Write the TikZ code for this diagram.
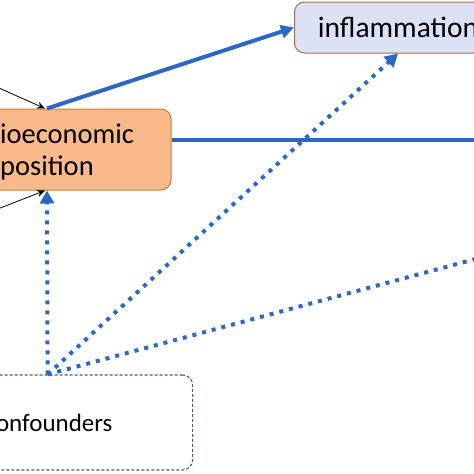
\documentclass[tikz,border=0pt]{standalone}
\usepackage{fontspec}
\setmainfont{Carlito}
\usetikzlibrary{arrows.meta}
\definecolor{arrowblue}{RGB}{42,104,196}
\definecolor{sepfill}{RGB}{249,185,138}
\definecolor{sepdraw}{RGB}{196,128,58}
\definecolor{inffill}{RGB}{219,226,243}
\definecolor{infdraw}{RGB}{168,102,78}
\definecolor{confdraw}{RGB}{70,90,120}
\begin{document}
\begin{tikzpicture}[x=1pt,y=-1pt,
 box/.style={rounded corners=10pt, line width=1pt, inner sep=0pt},
 solidarrow/.style={draw=arrowblue, line width=4pt, -{Triangle[length=13pt,width=13pt]}},
 dotline/.style={draw=arrowblue, line width=4pt, dash pattern=on 4pt off 6pt},
 dotarrow/.style={dotline, -{Triangle[length=13pt,width=14pt]}},
 thinarrow/.style={draw=black, line width=0.8pt, -{Stealth[length=8pt,width=7pt]}}
]
\useasboundingbox (0,0) rectangle (474,474);
\clip (0,0) rectangle (474,474);
\node[box, fill=sepfill, draw=sepdraw, minimum width=248pt, minimum height=81pt, align=center, font=\fontsize{28.5}{32}\selectfont] (sep) at (47,149.5) {\rule{0pt}{24pt}Socioeconomic\\position};
\node[box, fill=inffill, draw=infdraw, minimum width=207pt, minimum height=51pt, font=\fontsize{29.5}{32}\selectfont] (inf) at (398,27.5) {inflammation};
\node[box, draw=confdraw, line width=1.1pt, dash pattern=on 3pt off 2pt, fill=white, minimum width=290pt, minimum height=95pt, font=\fontsize{25}{30}\selectfont] (conf) at (47.6,422.5) {Confounders};
\coordinate (offR) at (520,247);
\coordinate (outR) at (490,140);
\coordinate (inTop) at (-10,84);
\coordinate (inBot) at (-10,212);
\draw[dotarrow] (conf.north) -- (sep.south);
\draw[dotarrow] (conf.north) -- (inf.south);
\draw[dotline] (conf.north) -- (offR);
\draw[solidarrow] (sep.north) -- (inf.west);
\draw[draw=arrowblue, line width=3.5pt] (sep.east |- outR) -- (outR);
\draw[thinarrow] (inTop) -- ([xshift=-2pt]sep.north);
\draw[thinarrow] (inBot) -- ([xshift=-2pt]sep.south);
\end{tikzpicture}
\end{document}
